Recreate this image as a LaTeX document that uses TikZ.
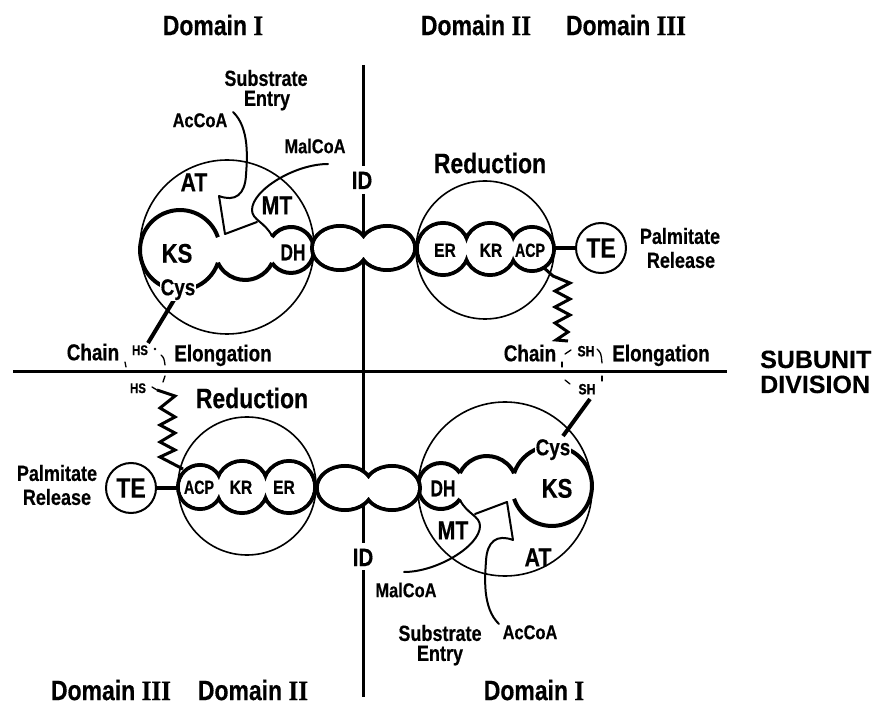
\documentclass[tikz,border=0pt]{standalone}
\usepackage{fontspec}
\setmainfont{Liberation Sans}[FakeStretch=0.82, BoldFeatures={FakeBold=0.4}]
\newfontfamily\narrowface{Liberation Sans}[FakeStretch=0.75, BoldFeatures={FakeBold=0.4}]
\newfontfamily\wideface{Liberation Sans}[BoldFeatures={FakeBold=0.3}]
\newfontfamily\numface{Liberation Serif}[FakeStretch=0.9, BoldFeatures={FakeBold=0.4}]
\newcommand\pxsize[1]{\fontsize{#1}{#1}\selectfont\bfseries}
\newcommand\rnum[1]{{\numface #1}}

\tikzset{
  lab/.style={inner sep=0pt, anchor=base, font=\pxsize{#1}, yshift=-0.36*#1pt},
  thinline/.style={line width=1.6pt},
  lobe/.style={line width=4pt},
  pocket/.style={line width=2pt, line cap=round, line join=round},
  arm/.style={line width=4pt},
  axis/.style={line width=3pt},
  zig/.style={line width=3pt, line join=miter},
  tick/.style={line width=1.3pt, line cap=round},
  tenode/.style={circle, draw, line width=2pt, minimum size=50pt, inner sep=0pt, font=\pxsize{28}},
}

% condensing enzyme domain: KS, AT, MT, DH
\newcommand\domainone{%
  \draw[thinline] (227,247) circle[radius=87];
  \draw[lobe] (217.9,237.2) arc[start angle=-18.7, end angle=-341.3, radius=40];
  \draw[lobe] (217.9,262.8) arc[start angle=154.7, end angle=25.8, radius=30];
  \draw[lobe] (272,263) arc[start angle=145.5, end angle=-145.5, radius=23];
  \draw[pocket] (328,164) .. controls (295,164) and (252,190) .. (252,210)
                .. controls (252,220) and (265,222) .. (272,236);
  \draw[pocket] (233,112) .. controls (250,128) and (247,160) .. (246,175)
                .. controls (245,195) and (235,202) .. (219,196)
                -- (225,234) -- (257,222);
}
% interdomain linker
\newcommand\linkerpair{%
  \draw[lobe] (340,248) ellipse[x radius=28, y radius=22]
              (387,248) ellipse[x radius=28, y radius=22];
  \fill[white] (340,248) ellipse[x radius=26, y radius=20]
               (387,248) ellipse[x radius=26, y radius=20];
}
% reduction domain: ER, KR, ACP and the thioesterase
\newcommand\reductionunit[1]{%
  \draw[thinline] (485,250) circle[radius=69];
  \draw[lobe] (443,249) circle[radius=26] (490,249) circle[radius=26] (532,249) circle[radius=22];
  \fill[white] (443,249) circle[radius=24] (490,249) circle[radius=24] (532,249) circle[radius=20];
  \node[tenode] (#1te) at (601,248) {TE};
  \draw[lobe] (554,248) -- (#1te);
}

\begin{document}
\begin{tikzpicture}[x=1pt, y=-1pt]
\useasboundingbox (0,0) rectangle (876,708);

% subunit division and interdomain axis
\draw[axis] (13,372) -- (727,372);
\draw[axis] (363,65) -- (363,166);
\draw[axis] (363,194) -- (363,543);
\draw[axis] (363,570) -- (363,697);

% upper subunit
\domainone
\linkerpair
\reductionunit{top}

% lower subunit, head to tail
\begin{scope}[rotate around={180:(366,368)}]
  \domainone
  \linkerpair
  \reductionunit{bot}
\end{scope}

% cysteine arms
\draw[arm] (174,300) -- (148,343);
\draw[arm] (563,436) -- (590,399);

% phosphopantetheine arms
\draw[zig] (543,267) -- (553,276) -- (570,283) -- (555,291) -- (570,299) -- (555,307)
  -- (570,315) -- (555,323) -- (568,332) -- (556,340) -- (568,341);
\draw[zig] (157,390) -- (175,396) -- (160,408) -- (175,417) -- (160,425) -- (175,433)
  -- (160,442) -- (175,450) -- (160,457) -- (183,469);

% swing marks, left
\draw[tick] (125,362) -- (126,367);
\fill (155,349) circle[radius=1.3];
\draw[tick] (161,355) .. controls (164,358) .. (165,365);
\draw[tick] (165,376) -- (163,382);
\draw[tick] (152,387) -- (157,390);
% swing marks, right
\draw[tick] (565,354) -- (571,350);
\draw[tick] (597,349) .. controls (601,353) .. (602,363);
\draw[tick] (562,362) -- (562,367);
\draw[tick] (602,376) -- (602,381);
\draw[tick] (565,380) -- (570,384);

% headings
\node[lab=28] (domItop) at (213,25) {Domain \rnum{I}};
\node[lab=28] (domIItop) at (476,25) {Domain \rnum{II}};
\node[lab=28] (domIIItop) at (626,25) {Domain \rnum{III}};
\node[lab=28] (domIIIbot) at (111,690) {Domain \rnum{III}};
\node[lab=28] (domIIbot) at (253,690) {Domain \rnum{II}};
\node[lab=28] (domIbot) at (534,690) {Domain \rnum{I}};
\node[lab=25, anchor=base west] (subunit) at (760,359) {\wideface SUBUNIT};
\node[lab=25, anchor=base west] (division) at (760,384) {\wideface DIVISION};

% upper left labels
\node[lab=22] (subA) at (266,78) {Substrate};
\node[lab=22] (entA) at (267,98) {Entry};
\node[lab=20] (accoaA) at (200,120) {AcCoA};
\node[lab=20] (malcoaA) at (315,146) {MalCoA};
\node[lab=26] (atA) at (194,182) {AT};
\node[lab=26] (mtA) at (277,205) {MT};
\node[lab=27] (ksA) at (177,253) {KS};
\node[lab=23] (dhA) at (293,252) {\narrowface DH};
\node[lab=23, fill=white, inner sep=1pt] (cysA) at (178,287) {Cys};
\node[lab=25] (idA) at (362,180) {ID};
\node[lab=23] (chainL) at (93,352) {Chain};
\node[lab=14] (hsA) at (140,350) {HS};
\node[lab=23] (elongL) at (223,353) {Elongation};
\node[lab=14] (hsB) at (138,388) {HS};

% upper right labels
\node[lab=28] (redA) at (490,163) {Reduction};
\node[lab=19] (erA) at (445,250) {ER};
\node[lab=19] (krA) at (491,250) {KR};
\node[lab=19] (acpA) at (530,250) {\narrowface ACP};
\node[lab=22] (palmA) at (680,236) {Palmitate};
\node[lab=22] (relA) at (681,260) {Release};
\node[lab=23] (chainR) at (530,353) {Chain};
\node[lab=15] (shA) at (586,351) {SH};
\node[lab=23] (elongR) at (661,353) {Elongation};
\node[lab=15] (shB) at (587,389) {SH};

% lower left labels
\node[lab=28] (redB) at (252,398) {Reduction};
\node[lab=19] (acpB) at (199,487) {\narrowface ACP};
\node[lab=19] (krB) at (241,487) {KR};
\node[lab=19] (erB) at (284,487) {ER};
\node[lab=22] (palmB) at (57,473) {Palmitate};
\node[lab=22] (relB) at (57,497) {Release};

% lower right labels
\node[lab=23, fill=white, inner sep=1pt] (cysB) at (553,447) {Cys};
\node[lab=27] (ksB) at (557,488) {KS};
\node[lab=23] (dhB) at (443,488) {\narrowface DH};
\node[lab=26] (mtB) at (453,530) {MT};
\node[lab=26] (atB) at (538,557) {AT};
\node[lab=25] (idB) at (363,557) {ID};
\node[lab=20] (malcoaB) at (406,590) {MalCoA};
\node[lab=22] (subB) at (440,633) {Substrate};
\node[lab=22] (entB) at (440,653) {Entry};
\node[lab=20] (accoaB) at (530,632) {AcCoA};
\end{tikzpicture}
\end{document}
